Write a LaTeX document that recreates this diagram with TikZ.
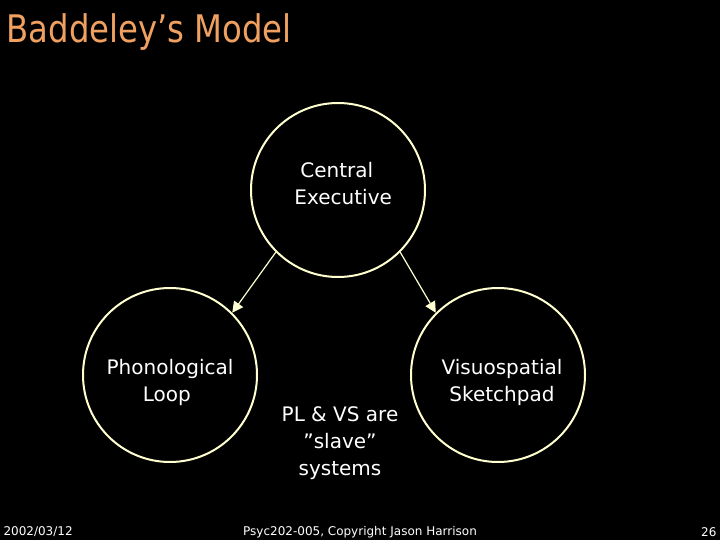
\documentclass[tikz,border=0pt]{standalone}
\usepackage{fontspec}
\setmainfont{DejaVu Sans}
\usetikzlibrary{arrows.meta}
\definecolor{cream}{HTML}{FFFFD0}
\definecolor{ttl}{HTML}{F0A060}
\begin{document}
\begin{tikzpicture}[x=1pt,y=-1pt,
  circ/.style={circle,draw=cream,line width=2pt,minimum size=174pt,inner sep=0pt},
  lbl/.style={text=white,font=\fontsize{20}{27}\selectfont,align=center},
  foot/.style={text=white,font=\fontsize{12}{14}\selectfont},
  arr/.style={draw=cream,line width=1.2pt,-{Triangle[length=11pt,width=11pt,fill=cream]}}]
\fill[black] (0,0) rectangle (720,540);
\useasboundingbox (0,0) rectangle (720,540);
\node[anchor=west,text=ttl,font=\fontsize{38}{44}\selectfont\addfontfeature{FakeStretch=0.85}] (title) at (3,32) {Baddeley’s Model};
\node[circ] (ce) at (338,190) {};
\node[circ] (pl) at (170,375) {};
\node[circ] (vs) at (498,375) {};
\node[lbl] (cet) at (340,184) {Central\ \ \\ \ Executive};
\node[lbl] (plt) at (170,382) {Phonological\\Loop\ \ };
\node[lbl] (vst) at (502,382) {Visuospatial\\Sketchpad};
\node[lbl] (note) at (340,443) {PL \& VS are\\\symbol{34}slave\symbol{34}\\systems};
\draw[arr] (ce.-135) -- (pl.45);
\draw[arr] (ce.-45) -- (vs.135);
\node[foot,anchor=west] (d) at (0,532) {2002/03/12};
\node[foot] (c) at (360,532) {Psyc202-005, Copyright Jason Harrison};
\node[foot,anchor=east] (n) at (720,532) {26};
\end{tikzpicture}
\end{document}
